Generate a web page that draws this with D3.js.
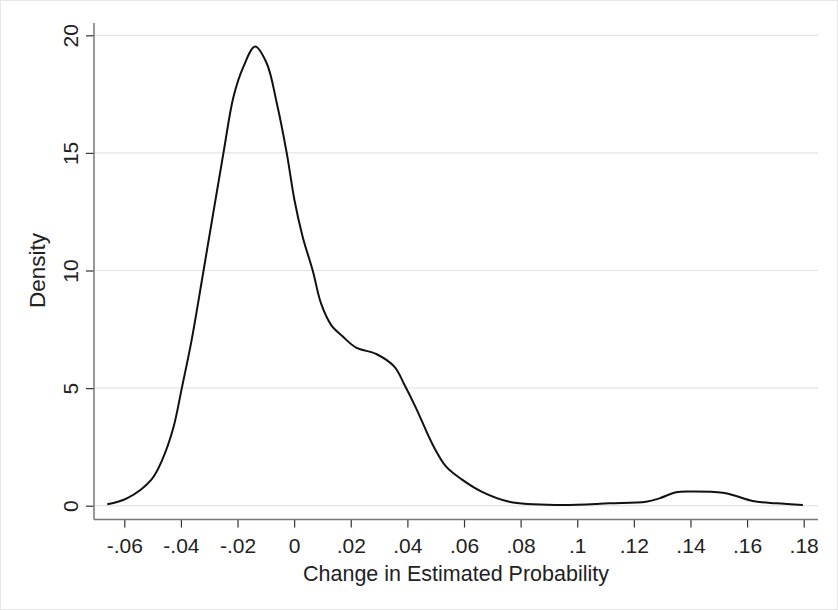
<!DOCTYPE html>
<html>
<head>
<meta charset="utf-8">
<script src="https://cdn.jsdelivr.net/npm/d3@7"></script>
<style>
  body { margin: 0; background: #fff; }
  svg { display: block; font-family: "Liberation Sans", Arial, sans-serif; }
</style>
</head>
<body>
<script>
// kernel density
const change = [-0.066, -0.0591, -0.0505, -0.0466, -0.0427, -0.0397, -0.0362, -0.032, -0.025, -0.0214, -0.0179,
  -0.0138, -0.0097, -0.0061, -0.0026, 0.0001, 0.003, 0.0066, 0.0095, 0.0131, 0.0172,
  0.0219, 0.029, 0.0354, 0.039, 0.0431, 0.049, 0.0537, 0.0592, 0.0662, 0.076,
  0.0937, 0.1114, 0.1243, 0.129, 0.1349, 0.1408, 0.1514, 0.1561, 0.162, 0.1703, 0.1797];
const density = [0.06, 0.31, 1.1, 1.95, 3.3, 4.99, 7.05, 10.0, 14.98, 17.4, 18.67,
  19.52, 18.81, 17.1, 14.98, 13.0, 11.44, 9.98, 8.6, 7.68, 7.19,
  6.72, 6.45, 5.91, 5.13, 4.14, 2.58, 1.66, 1.12, 0.6, 0.17,
  0.03, 0.1, 0.17, 0.31, 0.57, 0.6, 0.55, 0.41, 0.2, 0.1, 0.03];

const xTicks = [-0.06, -0.04, -0.02, 0, 0.02, 0.04, 0.06, 0.08, 0.1, 0.12, 0.14, 0.16, 0.18];
const yTicks = [0, 5, 10, 15, 20];

const draw = () => {
    const width = 838, height = 610;
    const svg = d3.select('body').append('svg')
        .attr('width', width)
        .attr('height', height);

    // faint outer frame
    svg.append('rect')
        .attr('x', 0.5).attr('y', 0.5)
        .attr('width', width - 1).attr('height', height - 1)
        .attr('fill', '#fff')
        .attr('stroke', '#e6e6e6');

    const x = d3.scaleLinear().domain([-0.06, 0.18]).range([124.3, 803.7]);
    const y = d3.scaleLinear().domain([0, 20]).range([505.7, 35.3]);

    const plotLeft = 94, plotRight = 818, plotBottom = 519.5, plotTop = 23;

    // stata style labels: drop the leading zero
    const fmt = d => d === 0 ? '0' : String(+d.toFixed(2)).replace('0.', '.');

    // grid
    svg.append('g')
        .selectAll('line')
        .data(yTicks)
        .join('line')
        .attr('x1', plotLeft).attr('x2', plotRight)
        .attr('y1', d => y(d)).attr('y2', d => y(d))
        .attr('stroke', '#e4e4e4')
        .attr('stroke-width', 1.2);

    // y axis
    const yAxis = svg.append('g')
        .attr('transform', `translate(${plotLeft},0)`)
        .call(d3.axisLeft(y).tickValues(yTicks).tickSize(8).tickPadding(0).tickFormat(d3.format('d')));
    yAxis.select('.domain').remove();
    yAxis.selectAll('.tick line').attr('stroke', '#333').attr('stroke-width', 1.2);
    yAxis.selectAll('.tick text')
        .attr('transform', 'rotate(-90)')
        .attr('x', 0).attr('y', -16)
        .attr('dy', 0)
        .attr('text-anchor', 'middle')
        .attr('font-size', 21)
        .attr('fill', '#222');
    svg.append('line')
        .attr('x1', plotLeft).attr('x2', plotLeft)
        .attr('y1', plotTop).attr('y2', plotBottom)
        .attr('stroke', '#777').attr('stroke-width', 1.5);

    // x axis
    const xAxis = svg.append('g')
        .attr('transform', `translate(0,${plotBottom})`)
        .call(d3.axisBottom(x).tickValues(xTicks).tickSize(8).tickPadding(0).tickFormat(fmt));
    xAxis.select('.domain').remove();
    xAxis.selectAll('.tick line').attr('stroke', '#333').attr('stroke-width', 1.2);
    xAxis.selectAll('.tick text')
        .attr('y', 33).attr('dy', 0)
        .attr('font-size', 21)
        .attr('fill', '#222');
    svg.append('line')
        .attr('x1', plotLeft).attr('x2', plotRight)
        .attr('y1', plotBottom).attr('y2', plotBottom)
        .attr('stroke', '#777').attr('stroke-width', 1.5);

    // axis titles
    svg.append('text')
        .attr('x', (plotLeft + plotRight) / 2)
        .attr('y', 581)
        .attr('text-anchor', 'middle')
        .attr('font-size', 21.5)
        .attr('fill', '#222')
        .text('Change in Estimated Probability');

    svg.append('text')
        .attr('transform', `translate(44.5,${(y(0) + y(20)) / 2}) rotate(-90)`)
        .attr('text-anchor', 'middle')
        .attr('font-size', 22.5)
        .attr('fill', '#222')
        .text('Density');

    // density curve
    const pts = change.map((c, i) => [c, density[i]]);
    const line = d3.line()
        .x(d => x(d[0]))
        .y(d => y(d[1]))
        .curve(d3.curveCatmullRom.alpha(0.5));

    svg.append('path')
        .attr('d', line(pts))
        .attr('fill', 'none')
        .attr('stroke', '#111')
        .attr('stroke-width', 2);
};

draw();
</script>
</body>
</html>
